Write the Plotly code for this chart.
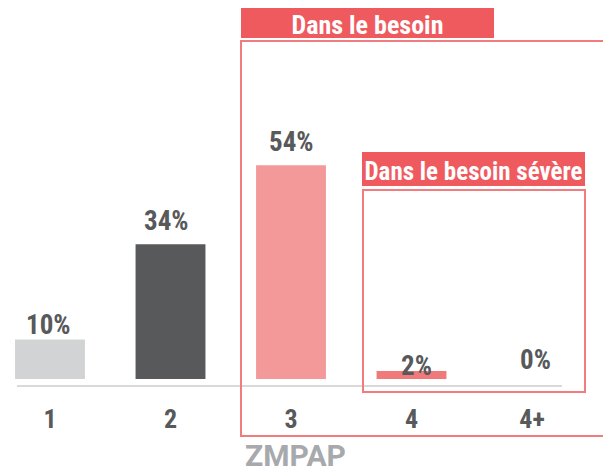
import plotly.graph_objects as go

# ---- data ----
categories = ["1", "2", "3", "4", "4+"]
values = [10, 34, 54, 2, 0]
value_labels = ["10%", "34%", "54%", "2%", "0%"]
group_label = "ZMPAP"
box_labels = ["Dans le besoin", "Dans le besoin sévère"]

# ---- styles ----
bar_colors = ["#d1d3d4", "#58595b", "#f4999a", "#f07a7a", "#f07a7a"]
label_shift = [14, 23, 23, 5, 19]
label_dx = [-2, -4, 0, 5, 3]
RED = "#ef5a5f"
OUTLINE = "#f27b7e"
TEXT = "#58595b"
FONT = "Roboto Condensed, Liberation Sans Narrow, DejaVu Sans Condensed, Roboto, sans-serif"

W, H = 611, 472
OFF = 8            # page body margin
PB = 379 - OFF     # plot-area bottom in figure pixels


def px(x):
    return (x - OFF) / W


def py(y):
    return (PB - (y - OFF)) / PB


fig = go.Figure(
    go.Bar(
        x=list(range(len(categories))),
        y=values,
        marker=dict(color=bar_colors, line=dict(width=0)),
        width=0.58,
        hoverinfo="skip",
    )
)

for i, (v, t, s, dx) in enumerate(zip(values, value_labels, label_shift, label_dx)):
    fig.add_annotation(
        x=i, y=v, text=t, showarrow=False, yanchor="middle", yshift=s, xshift=dx,
        font=dict(family=FONT, size=27, color=TEXT, weight=700),
    )

fig.add_annotation(
    x=px(295.5), y=py(455), xref="paper", yref="paper", text=group_label,
    showarrow=False, yanchor="middle",
    font=dict(family="Roboto, sans-serif", size=30, color="#a7a9ac", weight=700),
)

shapes = [
    dict(type="line", xref="paper", yref="paper", x0=px(17), x1=px(562),
         y0=py(386), y1=py(386), line=dict(color="#d9d9d9", width=2)),
    dict(type="rect", xref="paper", yref="paper", x0=px(241), x1=px(604),
         y0=py(436), y1=py(41), line=dict(color=OUTLINE, width=2)),
    dict(type="rect", xref="paper", yref="paper", x0=px(363), x1=px(585),
         y0=py(392), y1=py(190), line=dict(color=OUTLINE, width=2)),
    dict(type="rect", xref="paper", yref="paper", x0=px(241), x1=px(494),
         y0=py(38), y1=py(7), fillcolor=RED, line=dict(width=0),
         label=dict(text=box_labels[0], textposition="middle center",
                    font=dict(family=FONT, size=26, color="white", weight=700))),
    dict(type="rect", xref="paper", yref="paper", x0=px(362), x1=px(585),
         y0=py(186), y1=py(152), fillcolor=RED, line=dict(width=0),
         label=dict(text=box_labels[1], textposition="middle center",
                    font=dict(family=FONT, size=25, color="white", weight=700))),
]
fig.update_layout(shapes=shapes)

fig.update_layout(
    width=W, height=H,
    margin=dict(l=0, r=0, t=0, b=H - PB, pad=0),
    paper_bgcolor="white", plot_bgcolor="white",
    showlegend=False,
    xaxis=dict(
        range=[-42 / 120.5, (W - 42) / 120.5], showgrid=False, zeroline=False,
        showline=False, ticks="", ticklabelstandoff=22,
        tickmode="array", tickvals=list(range(len(categories))), ticktext=categories,
        tickfont=dict(family=FONT, size=26, color=TEXT, weight=700),
    ),
    yaxis=dict(range=[0, PB / 3.96], visible=False, showgrid=False, zeroline=False),
)

fig.write_html("out.html")
